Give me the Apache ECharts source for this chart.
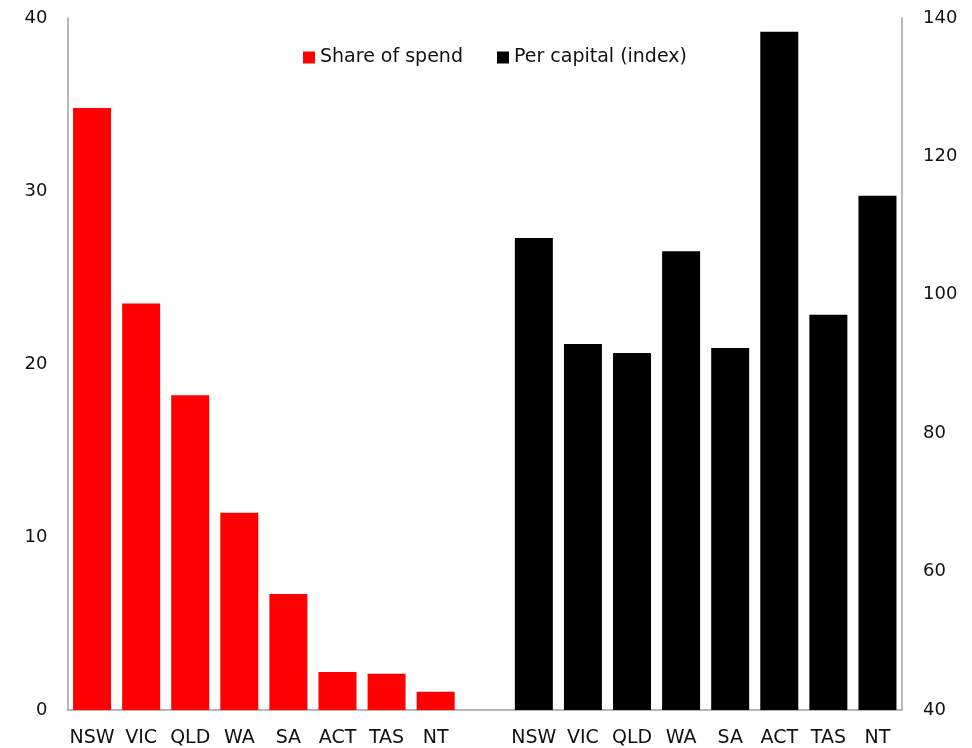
<!DOCTYPE html>
<html>
<head>
<meta charset="utf-8">
<script src="https://cdn.jsdelivr.net/npm/echarts@6/dist/echarts.min.js"></script>
<style>
  html, body { margin: 0; padding: 0; background: #fff; }
  #chart { width: 972px; height: 748px; }
</style>
</head>
<body>
<div id="chart"></div>
<script>
// States, shown twice: once for share of spend, once for the per-capita index
const states = ['NSW', 'VIC', 'QLD', 'WA', 'SA', 'ACT', 'TAS', 'NT'];
// Share of spend (%) by state
const shareOfSpend = [34.8, 23.5, 18.2, 11.4, 6.7, 2.2, 2.1, 1.05];
// Per-capita spend index by state
const perCapitaIndex = [108.2, 92.9, 91.6, 106.3, 92.3, 138.0, 97.1, 114.3];
// Axis ticks
const leftTicks = { min: 0, max: 40, interval: 10 };
const rightTicks = { min: 40, max: 140, interval: 20 };

// One category row: first group, a blank spacer, second group
const categories = [...states, '', ...states];
const redData = [...shareOfSpend, null, ...states.map(() => null)];
const blackData = [...states.map(() => null), null, ...perCapitaIndex];

const FONT = 'DejaVu Sans';
const chart = echarts.init(document.getElementById('chart'));
chart.setOption({
  animation: false,
  textStyle: { fontFamily: FONT },
  grid: { left: 67.5, right: 70, top: 18, bottom: 38, containLabel: false },
  legend: {
    left: 303, top: 48, padding: 0,
    itemWidth: 12, itemHeight: 12, itemGap: 34,
    icon: 'rect',
    textStyle: { fontFamily: FONT, fontSize: 19, color: '#111' },
    data: ['Share of spend', 'Per capital (index)']
  },
  xAxis: {
    type: 'category',
    data: categories,
    axisLine: { lineStyle: { color: '#a0a0a0', width: 1.5 } },
    axisTick: { show: false },
    axisLabel: { fontFamily: FONT, fontSize: 19, color: '#111', margin: 19, interval: 0 }
  },
  yAxis: [
    {
      type: 'value', position: 'left',
      min: leftTicks.min, max: leftTicks.max, interval: leftTicks.interval,
      axisLine: { show: true, lineStyle: { color: '#a0a0a0', width: 1.5 } },
      axisTick: { show: false },
      splitLine: { show: false },
      axisLabel: { fontFamily: FONT, fontSize: 18, color: '#111', margin: 20 }
    },
    {
      type: 'value', position: 'right',
      min: rightTicks.min, max: rightTicks.max, interval: rightTicks.interval,
      axisLine: { show: true, lineStyle: { color: '#a0a0a0', width: 1.5 } },
      axisTick: { show: false },
      splitLine: { show: false },
      axisLabel: { fontFamily: FONT, fontSize: 18, color: '#111', margin: 21 }
    }
  ],
  series: [
    {
      name: 'Share of spend', type: 'bar', yAxisIndex: 0,
      data: redData, barWidth: 38, barGap: '-100%',
      itemStyle: { color: '#ff0000' }
    },
    {
      name: 'Per capital (index)', type: 'bar', yAxisIndex: 1,
      data: blackData, barWidth: 38, barGap: '-100%',
      itemStyle: { color: '#000000' }
    }
  ]
});
</script>
</body>
</html>
